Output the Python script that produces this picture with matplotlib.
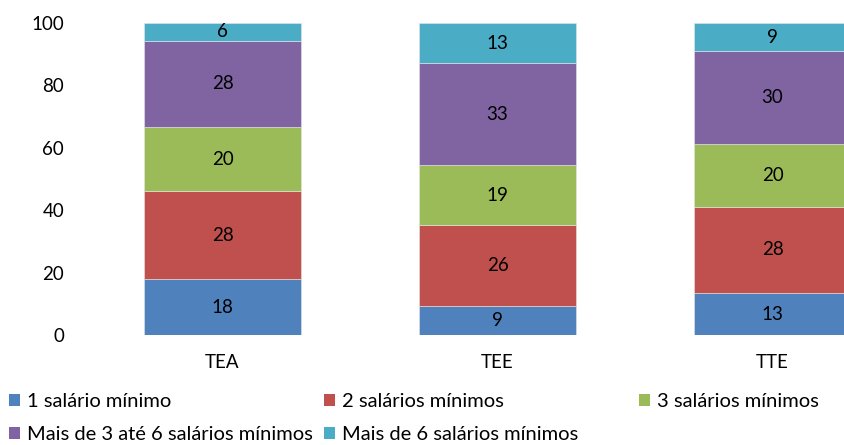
import numpy as np
import matplotlib
matplotlib.use("Agg")
import matplotlib.pyplot as plt
from matplotlib.patches import Patch

plt.rcParams['font.family'] = ['Lato', 'DejaVu Sans']

categories = ['TEA', 'TEE', 'TTE']
series_names = ['1 salário mínimo', '2 salários mínimos', '3 salários mínimos',
                'Mais de 3 até 6 salários mínimos', 'Mais de 6 salários mínimos']
colors = ['#4F81BD', '#C0504D', '#9BBB59', '#8064A2', '#4BACC6']

# percentages per category, one list per series
s1 = [17.9, 9.4, 13.4]
s2 = [28.3, 25.8, 27.7]
s3 = [20.4, 19.2, 20.1]
s4 = [27.7, 32.7, 29.8]
s5 = [5.7, 12.9, 9.0]
series = [s1, s2, s3, s4, s5]

yticks = [0, 20, 40, 60, 80, 100]

fig = plt.figure(figsize=(8.45, 4.45), dpi=100)
ax = fig.add_axes([85 / 845, 110 / 445, 760 / 845, 312 / 445])

x = np.arange(len(categories))
bottom = np.zeros(len(categories))
handles = []
for vals, name, col in zip(series, series_names, colors):
    vals = np.array(vals)
    ax.bar(x, vals, 0.571, bottom=bottom, color=col,
           edgecolor='#e6e6e6', linewidth=0.4, label=name)
    for xi, b, v in zip(x, bottom, vals):
        ax.text(xi, b + v / 2, '{:.0f}'.format(v), ha='center', va='center',
                fontsize=13.5, color='black')
    bottom += vals
    handles.append(Patch(facecolor=col, label=name))

ax.set_xlim(-0.5, 2.2636)
ax.set_ylim(0, 100)
ax.set_yticks(yticks)
ax.set_xticks(x)
ax.set_xticklabels(categories)
for s in ax.spines.values():
    s.set_visible(False)
ax.tick_params(axis='both', length=0, labelsize=13.5)
ax.tick_params(axis='y', pad=15)
ax.tick_params(axis='x', pad=14)

# legend laid out in rows like the original: three columns placed by hand
cols = [[0, 3], [1, 4], [2]]
xpos = [9 / 845, 324 / 845, 639 / 845]
for idx, xp in zip(cols, xpos):
    leg = fig.legend([handles[i] for i in idx], [series_names[i] for i in idx],
                     loc='upper left', bbox_to_anchor=(xp, 52 / 445),
                     frameon=False, fontsize=14.5, handlelength=0.55,
                     handleheight=0.55, handletextpad=0.35, labelspacing=0.8,
                     borderpad=0, borderaxespad=0)

fig.savefig('out.png', dpi=100)
